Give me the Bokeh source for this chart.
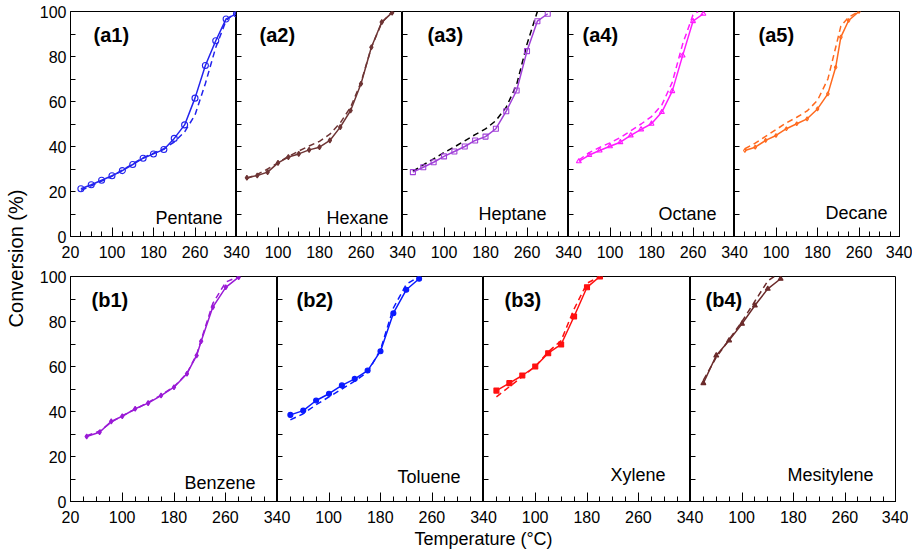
import math
from bokeh.plotting import figure
from bokeh.layouts import row, column
from bokeh.models import Range1d, FixedTicker, Label
from bokeh.embed import file_html
from bokeh.resources import INLINE

FONT = "Liberation Sans"

# ---------------- data ----------------
x_major = [20, 100, 180, 260, 340]
x_minor = [40, 60, 80, 120, 140, 160, 200, 220, 240, 280, 300, 320]
y_major = [0, 20, 40, 60, 80, 100]
y_minor = [10, 30, 50, 70, 90]

# Pentane (a1)
T_a1 = [40, 60, 80, 100, 120, 140, 160, 180, 200, 220, 240, 260, 280, 300, 320, 340]
C_a1 = [21.2, 23.0, 25.0, 27.0, 29.3, 32.0, 34.8, 36.7, 38.7, 43.6, 49.6, 61.5, 76.0, 87.0, 96.7, 99.0]
TM_a1 = [40, 60, 80, 100, 120, 140, 160, 180, 200, 220, 240, 260, 280, 300, 320, 340]
M_a1 = [20.5, 22.5, 24.6, 26.8, 29.5, 32.3, 35.0, 37.0, 39.0, 42.0, 46.5, 54.0, 68.0, 84.0, 96.0, 100.0]
# Hexane (a2)
T_a2 = [40, 60, 80, 100, 120, 140, 160, 180, 200, 220, 240, 260, 280, 300, 320]
C_a2 = [26.1, 27.1, 28.6, 32.7, 35.3, 36.7, 38.5, 39.7, 42.7, 48.6, 56.0, 67.9, 84.1, 95.3, 99.5]
TM_a2 = [40, 60, 80, 100, 120, 140, 160, 180, 200, 220, 240, 260, 280, 300, 320]
M_a2 = [25.8, 27.6, 30.0, 32.8, 35.6, 38.0, 40.2, 42.3, 45.5, 50.5, 57.5, 68.5, 84.0, 95.0, 100.0]
# Heptane (a3)
T_a3 = [40, 60, 80, 100, 120, 140, 160, 180, 200, 220, 240, 260, 280, 300]
C_a3 = [28.6, 30.8, 33.0, 35.6, 37.8, 40.0, 42.7, 44.4, 47.9, 55.7, 64.9, 82.4, 95.7, 99.0]
TM_a3 = [40, 60, 80, 100, 120, 140, 160, 180, 200, 220, 240, 260, 280]
M_a3 = [29.0, 31.8, 34.5, 37.3, 39.8, 42.5, 45.3, 47.8, 51.5, 57.5, 67.5, 85.5, 100.0]
# Octane (a4)
T_a4 = [40, 60, 80, 100, 120, 140, 160, 180, 200, 220, 240, 260, 280]
C_a4 = [33.4, 36.2, 38.2, 40.1, 41.9, 44.9, 47.6, 50.1, 55.3, 64.6, 80.4, 95.7, 99.0]
TM_a4 = [40, 60, 80, 100, 120, 140, 160, 180, 200, 220, 240, 260, 270]
M_a4 = [34.0, 37.3, 39.6, 41.6, 44.0, 47.0, 50.0, 53.3, 58.5, 68.5, 85.5, 98.5, 100.0]
# Decane (a5)
T_a5 = [40, 60, 80, 100, 120, 140, 160, 180, 200, 215, 225, 240, 260]
C_a5 = [38.2, 39.7, 42.7, 44.9, 47.9, 50.1, 52.3, 56.7, 63.4, 75.2, 88.6, 96.0, 100.0]
TM_a5 = [40, 60, 80, 100, 120, 140, 160, 180, 200, 215, 225, 240, 260]
M_a5 = [39.0, 41.5, 44.5, 47.5, 50.5, 53.0, 55.8, 60.5, 70.0, 84.0, 93.5, 97.5, 100.0]
# Benzene (b1)
T_b1 = [45, 65, 83, 100, 120, 140, 160, 180, 200, 215, 222, 240, 260, 280]
C_b1 = [28.9, 30.8, 35.6, 37.9, 41.2, 43.7, 47.1, 50.8, 56.8, 64.9, 71.2, 86.4, 95.2, 99.7]
TM_b1 = [45, 65, 83, 100, 120, 140, 160, 180, 200, 215, 222, 240, 260, 280]
M_b1 = [29.2, 31.3, 35.2, 38.1, 41.0, 44.0, 47.3, 51.0, 57.0, 65.3, 71.8, 88.0, 97.5, 100.0]
# Toluene (b2)
T_b2 = [40, 60, 80, 100, 120, 140, 160, 180, 200, 220, 240]
C_b2 = [38.5, 40.4, 44.9, 47.9, 51.6, 54.5, 58.2, 66.8, 83.7, 94.1, 99.0]
TM_b2 = [40, 60, 80, 100, 120, 140, 160, 180, 200, 220, 240]
M_b2 = [36.3, 39.0, 43.0, 46.5, 50.0, 53.5, 57.5, 67.5, 86.0, 96.5, 100.0]
# Xylene (b3)
T_b3 = [40, 60, 80, 100, 120, 140, 160, 180, 200]
C_b3 = [49.3, 52.6, 56.0, 60.0, 65.9, 69.8, 82.2, 95.2, 100.0]
TM_b3 = [40, 60, 80, 100, 120, 140, 160, 180, 200]
M_b3 = [46.5, 51.0, 55.5, 60.0, 66.5, 71.5, 85.5, 97.0, 100.0]
# Mesitylene (b4)
T_b4 = [40, 60, 80, 100, 120, 140, 160]
C_b4 = [52.6, 64.9, 71.6, 79.0, 87.1, 94.5, 99.0]
TM_b4 = [40, 60, 80, 100, 120, 140, 150]
M_b4 = [54.0, 64.0, 72.0, 80.0, 89.0, 98.0, 100.0]

top_panels = [
    dict(tag="(a1)", name="Pentane", T=T_a1, C=C_a1, TM=TM_a1, M=M_a1, color="#2323ee", dash="#2323ee",
         marker="circle", fill=False, size=6, tag_off=23, name_right=14, name_base=19),
    dict(tag="(a2)", name="Hexane", T=T_a2, C=C_a2, TM=TM_a2, M=M_a2, color="#6e3535", dash="#6e3535",
         marker="diamond", fill=True, size=5, tag_off=23, name_right=14, name_base=19),
    dict(tag="(a3)", name="Heptane", T=T_a3, C=C_a3, TM=TM_a3, M=M_a3, color="#a040d8", dash="#000000",
         marker="square", fill=False, size=5, tag_off=25, name_right=22, name_base=23),
    dict(tag="(a4)", name="Octane", T=T_a4, C=C_a4, TM=TM_a4, M=M_a4, color="#ff1aff", dash="#ff1aff",
         marker="triangle", fill=False, size=5, tag_off=14, name_right=18, name_base=23),
    dict(tag="(a5)", name="Decane", T=T_a5, C=C_a5, TM=TM_a5, M=M_a5, color="#ff6a1f", dash="#ff6a1f",
         marker="diamond", fill=False, size=4, tag_off=24, name_right=13, name_base=24),
]
bottom_panels = [
    dict(tag="(b1)", name="Benzene", T=T_b1, C=C_b1, TM=TM_b1, M=M_b1, color="#9a1ad6", dash="#9a1ad6",
         marker="diamond", fill=True, size=5, tag_off=21, name_right=22, name_base=19),
    dict(tag="(b2)", name="Toluene", T=T_b2, C=C_b2, TM=TM_b2, M=M_b2, color="#0a1aff", dash="#0a1aff",
         marker="circle", fill=True, size=5, tag_off=19, name_right=23, name_base=25),
    dict(tag="(b3)", name="Xylene", T=T_b3, C=C_b3, TM=TM_b3, M=M_b3, color="#ff1010", dash="#ff1010",
         marker="square", fill=True, size=5, tag_off=21, name_right=25, name_base=27),
    dict(tag="(b4)", name="Mesitylene", T=T_b4, C=C_b4, TM=TM_b4, M=M_b4, color="#6b2b2b", dash="#6b2b2b",
         marker="triangle", fill=True, size=5, tag_off=15, name_right=23, name_base=27),
]


def make_panel(d, fw, fh, bl, bt, bb, first):
    p = figure(frame_width=fw, frame_height=fh,
               min_border_left=bl, min_border_right=0, min_border_top=bt, min_border_bottom=bb,
               x_range=Range1d(20, 340), y_range=Range1d(0, 100),
               toolbar_location=None, output_backend="svg")
    p.xgrid.visible = False
    p.ygrid.visible = False
    p.outline_line_color = "black"
    p.outline_line_width = 1
    p.background_fill_color = "white"
    p.border_fill_color = "white"

    xa = p.xaxis[0]
    xa.ticker = FixedTicker(ticks=x_major, minor_ticks=x_minor)
    xa.major_tick_in = 9
    xa.major_tick_out = 0
    xa.minor_tick_in = 5
    xa.minor_tick_out = 0
    xa.axis_line_color = "black"
    xa.major_tick_line_color = "black"
    xa.minor_tick_line_color = "black"
    xa.major_label_text_font_size = "0px"
    xa.major_label_standoff = 0
    xa.major_label_overrides = {t: "" for t in x_major}

    ya = p.yaxis[0]
    ya.ticker = FixedTicker(ticks=y_major, minor_ticks=y_minor)
    ya.major_tick_in = 5
    ya.major_tick_out = 0
    ya.minor_tick_in = 5
    ya.minor_tick_out = 0
    ya.axis_line_color = "black"
    ya.major_tick_line_color = "black"
    ya.minor_tick_line_color = "black"
    if first:
        ya.major_label_text_font = FONT
        ya.major_label_text_font_size = "16px"
        ya.major_label_text_color = "black"
        ya.major_label_standoff = 4
    else:
        ya.major_label_text_font_size = "0px"
        ya.major_label_standoff = 0
        ya.major_label_overrides = {t: "" for t in y_major}

    p.line(d["TM"], d["M"], line_color=d["dash"], line_width=1.5, line_dash="6 4")
    p.line(d["T"], d["C"], line_color=d["color"], line_width=1.5)
    p.scatter(d["T"], d["C"], marker=d["marker"], size=d["size"], line_color=d["color"],
              line_width=1.1, fill_color=d["color"] if d["fill"] else None)

    tx = fw / 320.0   # px per degree
    cy = fh / 100.0   # px per percent
    p.add_layout(Label(x=20 + d["tag_off"] / tx, y=100 - 12 / cy, text=d["tag"],
                       text_font=FONT, text_font_style="bold", text_font_size="20px",
                       text_align="left", text_baseline="top", text_color="black"))
    p.add_layout(Label(x=340 - d["name_right"] / tx, y=d["name_base"] / cy, text=d["name"],
                       text_font=FONT, text_font_size="18px",
                       text_align="right", text_baseline="alphabetic", text_color="black"))
    return p


def make_tick_fig(n, total_w, bl, br, bb, title=None):
    f = figure(frame_width=total_w, frame_height=1,
               min_border_left=bl, min_border_right=br, min_border_top=0, min_border_bottom=bb,
               x_range=Range1d(20, 20 + 320 * n), y_range=Range1d(0, 1),
               y_axis_location=None, toolbar_location=None, output_backend="svg")
    f.outline_line_color = None
    f.xgrid.visible = False
    f.ygrid.visible = False
    ticks = []
    labels = {}
    for k in range(n):
        for i, v in enumerate(x_major):
            if k > 0 and i == 0:
                continue
            t = v + 320 * k
            ticks.append(t)
            labels[t] = str(v)
    ax = f.xaxis[0]
    ax.ticker = FixedTicker(ticks=ticks, minor_ticks=[])
    ax.major_label_overrides = labels
    ax.axis_line_color = None
    ax.major_tick_line_color = None
    ax.minor_tick_line_color = None
    ax.major_tick_out = 0
    ax.major_tick_in = 0
    ax.major_label_standoff = 0
    ax.major_label_text_font = FONT
    ax.major_label_text_font_size = "16px"
    ax.major_label_text_color = "black"
    if title:
        ax.axis_label = title
        ax.axis_label_text_font = FONT
        ax.axis_label_text_font_size = "18px"
        ax.axis_label_text_font_style = "normal"
        ax.axis_label_text_color = "black"
        ax.axis_label_standoff = 3
    return f


TOTAL_H = 555
YW = 28
BL = 42

top_figs = []
for i, d in enumerate(top_panels):
    top_figs.append(make_panel(d, 166, 225, BL if i == 0 else 0, 11, 8, i == 0))
bot_widths = [207, 206, 207, 206]
bot_figs = []
for i, d in enumerate(bottom_panels):
    bot_figs.append(make_panel(d, bot_widths[i], 225, BL if i == 0 else 0, 12, 8, i == 0))

top_ticks = make_tick_fig(5, 166 * 5, BL, 12, 19)
bot_ticks = make_tick_fig(4, sum(bot_widths), BL, 12, 45, title="Temperature (\u00b0C)")

yfig = figure(frame_width=YW, frame_height=TOTAL_H, min_border_left=0, min_border_right=0,
              min_border_top=0, min_border_bottom=0,
              x_range=Range1d(0, YW), y_range=Range1d(TOTAL_H, 0),
              x_axis_location=None, y_axis_location=None,
              toolbar_location=None, output_backend="svg")
yfig.outline_line_color = None
yfig.xgrid.visible = False
yfig.ygrid.visible = False
yfig.add_layout(Label(x=15, y=258, text="Conversion (%)", angle=math.pi / 2,
                      text_font=FONT, text_font_size="20px", text_align="center",
                      text_baseline="middle", text_color="black"))

layout = row(yfig, column(row(*top_figs), top_ticks, row(*bot_figs), bot_ticks))

open("out.html", "w").write(file_html(layout, INLINE))
